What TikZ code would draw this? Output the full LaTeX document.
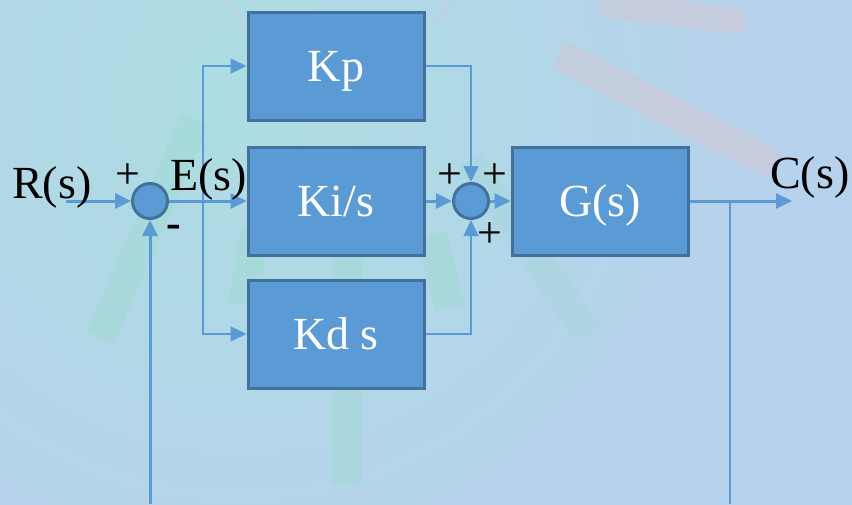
\documentclass[tikz,border=0pt]{standalone}
\usepackage{fontspec}
\setmainfont{Liberation Serif}
\usetikzlibrary{arrows.meta}
\definecolor{mbox}{RGB}{91,155,213}
\definecolor{mboxline}{RGB}{65,113,156}
\definecolor{mwire}{RGB}{91,155,213}
\definecolor{mbg}{RGB}{183,210,236}
\definecolor{mglow}{RGB}{172,221,226}
\definecolor{mray}{RGB}{160,218,208}
\definecolor{mrose}{RGB}{204,202,216}
\tikzset{
  blk/.style = {draw = mboxline, fill = mbox, line width = 3pt,
    minimum width = 176pt, minimum height = 108pt, text = white,
    text height = 41pt, text depth = 10pt, inner sep = 0,
    font = \fontsize{46}{50}\selectfont},
  sumpt/.style = {circle, draw = mboxline, fill = mbox, line width = 3pt,
    minimum size = 35pt, inner sep = 0},
  lbl/.style = {anchor = base west, inner sep = 0,
    font = \fontsize{46}{50}\selectfont},
  sgn/.style = {inner sep = 0, font = \fontsize{44}{48}\selectfont},
  wire/.style = {draw = mwire, line width = 3pt},
  thinwire/.style = {draw = mwire, line width = 1.6pt},
  arr/.style = {-{Triangle[length = 16pt, width = 15pt]}},
  ray/.style = {line width = 30pt, opacity = 0.45},
}

\begin{document}
\begin{tikzpicture}[x = 1pt, y = -1pt]
    % backdrop
    \useasboundingbox (0, 0) rectangle (852, 504);
    \fill[mbg] (-6, -6) rectangle (858, 510);
    \begin{scope}
      \clip (-6, -6) rectangle (858, 510);
      \shade[inner color = mglow, outer color = mbg] (240, 100) circle (520pt);
      \draw[ray, mray] (195, 120) -- (100, 338);
      \draw[ray, mray] (255, 230) -- (243, 305);
      \draw[ray, mray] (347, 240) -- (347, 485);
      \draw[ray, mray] (432, 235) -- (450, 308);
      \draw[ray, mray!70!mbg] (470, 160) -- (588, 335);
      \draw[ray, mrose, opacity = 0.7] (560, 55) -- (775, 165);
      \draw[ray, mrose, opacity = 0.7, line width = 26pt] (600, 4) -- (745, 22);
      \draw[mrose, line width = 3pt, opacity = 0.5] (338, -65) circle (130pt);
    \end{scope}

    % blocks
    \node[blk] (kp) at (336, 66) {Kp};
    \node[blk] (ki) at (336, 201) {Ki/s};
    \node[blk] (kd) at (336, 334) {Kd s};
    \node[blk] (gs) at (600, 201) {G(s)};
    \node[sumpt] (s1) at (150, 201) {};
    \node[sumpt] (s2) at (471, 201) {};

    \coordinate (rin) at (66, 201);
    \coordinate (tap) at (203, 201);
    \coordinate (cout) at (792, 201);
    \coordinate (fbtap) at (730, 201);
    \coordinate (fbend) at (730, 504);
    \coordinate (fbstart) at (150, 504);

    \draw[wire, arr] (rin) -- (s1);
    \draw[wire, arr] (s1) -- (ki);
    \draw[thinwire, arr] (tap) |- (kp);
    \draw[thinwire, arr] (tap) |- (kd);
    \draw[wire, arr] (ki) -- (s2);
    \draw[thinwire, arr] (kp) -| (s2);
    \draw[thinwire, arr] (kd) -| (s2);
    \draw[wire, arr] (s2) -- (gs);
    \draw[wire, arr] (gs) -- (cout);
    \draw[thinwire] (fbtap) -- (fbend);
    \draw[wire, arr] (fbstart) -- (s1);

    % signs and labels
    \node[sgn] (p1) at (128, 176) {+};
    \node[sgn] (m1) at (174, 231) {\textbf{-}};
    \node[sgn] (p2) at (450, 176) {+};
    \node[sgn] (p3) at (495, 176) {+};
    \node[sgn] (p4) at (490, 235) {+};
    \node[lbl] (rlbl) at (12, 198) {R(s)};
    \node[lbl] (elbl) at (170, 190) {E(s)};
    \node[lbl] (clbl) at (770, 188) {C(s)};
  \end{tikzpicture}
\end{document}
